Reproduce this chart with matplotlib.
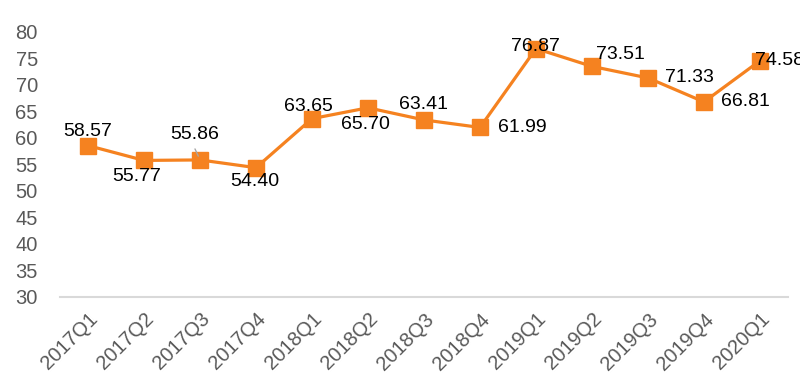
import matplotlib
matplotlib.use("Agg")
import matplotlib.pyplot as plt

quarters = ["2017Q1", "2017Q2", "2017Q3", "2017Q4", "2018Q1", "2018Q2", "2018Q3",
            "2018Q4", "2019Q1", "2019Q2", "2019Q3", "2019Q4", "2020Q1"]
values = [58.57, 55.77, 55.86, 54.40, 63.65, 65.70, 63.41,
          61.99, 76.87, 73.51, 71.33, 66.81, 74.58]

# label offsets in pixels (dx, dy) relative to each point, plus horizontal alignment
label_pos = [(0, 14, "center"), (-7, -16, "center"), (-5, 25, "center"), (-1, -14, "center"),
             (-4, 12, "center"), (-3, -17, "center"), (-1, 15, "center"),
             (18, 0, "left"), (-1, 2, "center"), (4, 12, "left"), (17, 0, "left"),
             (17, 0, "left"), (-5, 0, "left")]

ORANGE = "#F58220"
GREY = "#595959"

plt.rcParams["font.family"] = ["Liberation Sans", "DejaVu Sans"]

fig = plt.figure(figsize=(8, 3.86), dpi=100)
ax = fig.add_axes([0.075, 0.2306, 0.91, 0.6865])

x = range(len(quarters))
ax.plot(x, values, color=ORANGE, lw=2.3, marker="s", ms=11, mfc=ORANGE, mec=ORANGE,
        clip_on=False, zorder=3)

for i, v in enumerate(values):
    dx, dy, ha = label_pos[i]
    ax.annotate(f"{v:.2f}", (i, v), xytext=(dx, dy), textcoords="offset pixels",
                ha=ha, va="center", fontsize=14, color="black", zorder=4,
                annotation_clip=False)

# small leader line for 2017Q3 label
ax.annotate("", (2, values[2]), xytext=(-5, 11), textcoords="offset pixels",
            arrowprops=dict(arrowstyle="-", color="#A6A6A6", lw=1, shrinkA=0, shrinkB=3))

ax.set_xlim(-0.5, len(quarters) - 0.5)
ax.set_ylim(30, 80)
ax.set_yticks(range(30, 81, 5))
ax.set_xticks(list(x))
ax.set_xticklabels(quarters, rotation=45, ha="right", rotation_mode="anchor")

for s in ["top", "right", "left"]:
    ax.spines[s].set_visible(False)
ax.spines["bottom"].set_color("#D9D9D9")
ax.spines["bottom"].set_linewidth(1.5)
ax.tick_params(axis="both", length=0, labelsize=14.5, labelcolor=GREY)
ax.tick_params(axis="y", pad=16)
ax.tick_params(axis="x", pad=9)

fig.savefig("out.png", dpi=100)
